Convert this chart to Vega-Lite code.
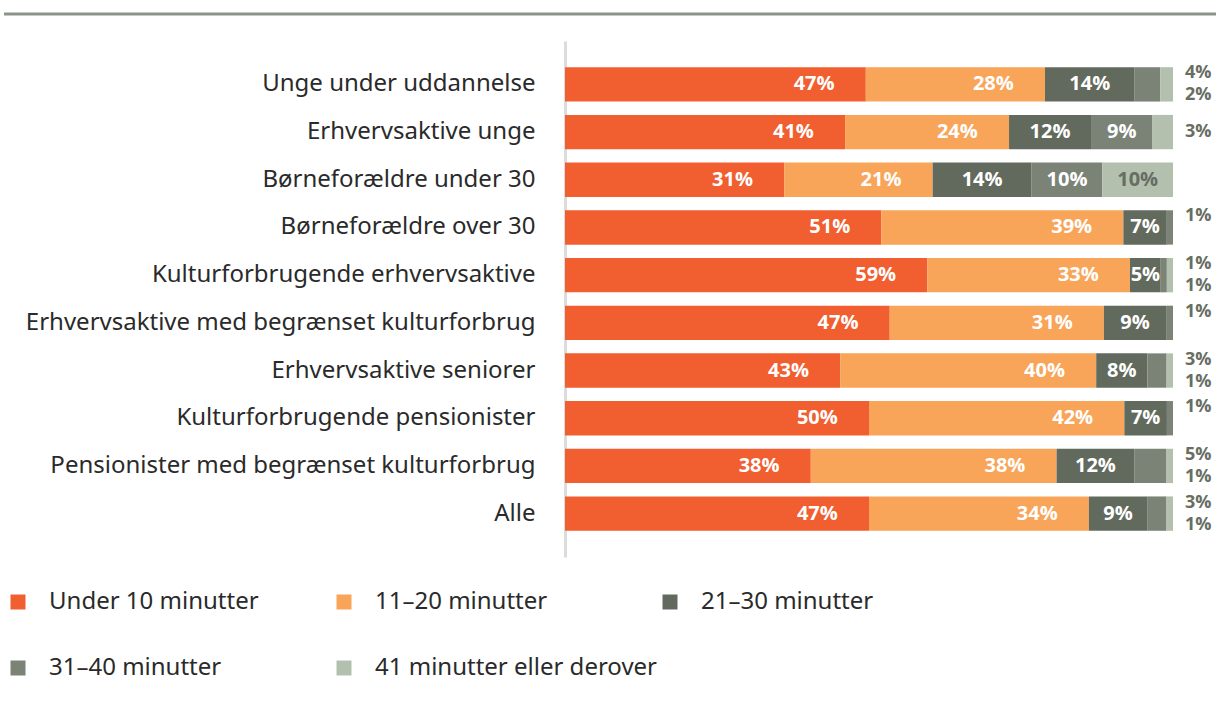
{
  "$schema": "https://vega.github.io/schema/vega-lite/v6.json",
  "width": 608,
  "height": 516,
  "autosize": {"type": "none"},
  "padding": {"left": 565, "top": 41, "right": 43, "bottom": 157},
  "background": "white",
  "config": {"view": {"stroke": null}, "font": "Noto Sans"},
  "layer": [
    {
      "data": {
        "values": [
          {"g": "Unge under uddannelse", "c": "Under 10 minutter", "v": 47},
          {"g": "Unge under uddannelse", "c": "11–20 minutter", "v": 28},
          {"g": "Unge under uddannelse", "c": "21–30 minutter", "v": 14},
          {"g": "Unge under uddannelse", "c": "31–40 minutter", "v": 4},
          {"g": "Unge under uddannelse", "c": "41 minutter eller derover", "v": 2},
          {"g": "Erhvervsaktive unge", "c": "Under 10 minutter", "v": 41},
          {"g": "Erhvervsaktive unge", "c": "11–20 minutter", "v": 24},
          {"g": "Erhvervsaktive unge", "c": "21–30 minutter", "v": 12},
          {"g": "Erhvervsaktive unge", "c": "31–40 minutter", "v": 9},
          {"g": "Erhvervsaktive unge", "c": "41 minutter eller derover", "v": 3},
          {"g": "Børneforældre under 30", "c": "Under 10 minutter", "v": 31},
          {"g": "Børneforældre under 30", "c": "11–20 minutter", "v": 21},
          {"g": "Børneforældre under 30", "c": "21–30 minutter", "v": 14},
          {"g": "Børneforældre under 30", "c": "31–40 minutter", "v": 10},
          {"g": "Børneforældre under 30", "c": "41 minutter eller derover", "v": 10},
          {"g": "Børneforældre over 30", "c": "Under 10 minutter", "v": 51},
          {"g": "Børneforældre over 30", "c": "11–20 minutter", "v": 39},
          {"g": "Børneforældre over 30", "c": "21–30 minutter", "v": 7},
          {"g": "Børneforældre over 30", "c": "31–40 minutter", "v": 1},
          {"g": "Børneforældre over 30", "c": "41 minutter eller derover", "v": 0},
          {"g": "Kulturforbrugende erhvervsaktive", "c": "Under 10 minutter", "v": 59},
          {"g": "Kulturforbrugende erhvervsaktive", "c": "11–20 minutter", "v": 33},
          {"g": "Kulturforbrugende erhvervsaktive", "c": "21–30 minutter", "v": 5},
          {"g": "Kulturforbrugende erhvervsaktive", "c": "31–40 minutter", "v": 1},
          {"g": "Kulturforbrugende erhvervsaktive", "c": "41 minutter eller derover", "v": 1},
          {"g": "Erhvervsaktive med begrænset kulturforbrug", "c": "Under 10 minutter", "v": 47},
          {"g": "Erhvervsaktive med begrænset kulturforbrug", "c": "11–20 minutter", "v": 31},
          {"g": "Erhvervsaktive med begrænset kulturforbrug", "c": "21–30 minutter", "v": 9},
          {"g": "Erhvervsaktive med begrænset kulturforbrug", "c": "31–40 minutter", "v": 1},
          {"g": "Erhvervsaktive med begrænset kulturforbrug", "c": "41 minutter eller derover", "v": 0},
          {"g": "Erhvervsaktive seniorer", "c": "Under 10 minutter", "v": 43},
          {"g": "Erhvervsaktive seniorer", "c": "11–20 minutter", "v": 40},
          {"g": "Erhvervsaktive seniorer", "c": "21–30 minutter", "v": 8},
          {"g": "Erhvervsaktive seniorer", "c": "31–40 minutter", "v": 3},
          {"g": "Erhvervsaktive seniorer", "c": "41 minutter eller derover", "v": 1},
          {"g": "Kulturforbrugende pensionister", "c": "Under 10 minutter", "v": 50},
          {"g": "Kulturforbrugende pensionister", "c": "11–20 minutter", "v": 42},
          {"g": "Kulturforbrugende pensionister", "c": "21–30 minutter", "v": 7},
          {"g": "Kulturforbrugende pensionister", "c": "31–40 minutter", "v": 1},
          {"g": "Kulturforbrugende pensionister", "c": "41 minutter eller derover", "v": 0},
          {"g": "Pensionister med begrænset kulturforbrug", "c": "Under 10 minutter", "v": 38},
          {"g": "Pensionister med begrænset kulturforbrug", "c": "11–20 minutter", "v": 38},
          {"g": "Pensionister med begrænset kulturforbrug", "c": "21–30 minutter", "v": 12},
          {"g": "Pensionister med begrænset kulturforbrug", "c": "31–40 minutter", "v": 5},
          {"g": "Pensionister med begrænset kulturforbrug", "c": "41 minutter eller derover", "v": 1},
          {"g": "Alle", "c": "Under 10 minutter", "v": 47},
          {"g": "Alle", "c": "11–20 minutter", "v": 34},
          {"g": "Alle", "c": "21–30 minutter", "v": 9},
          {"g": "Alle", "c": "31–40 minutter", "v": 3},
          {"g": "Alle", "c": "41 minutter eller derover", "v": 1}
        ]
      },
      "transform": [
        {"calculate": "indexof(['Under 10 minutter','11–20 minutter','21–30 minutter','31–40 minutter','41 minutter eller derover'], datum.c) + 1", "as": "o"},
        {"stack": "v", "groupby": ["g"], "sort": [{"field": "o", "order": "ascending"}], "offset": "normalize", "as": ["s0", "s1"]},
        {"calculate": "max((datum.s0 + datum.s1) / 2, datum.s1 - 0.085)", "as": "lx"},
        {"calculate": "datum.v + '%'", "as": "lab"},
        {"calculate": "datum.o == 4 && datum.v < 9 && datum.v > 0 ? 1 : 0", "as": "out4"},
        {"joinaggregate": [{"op": "sum", "field": "out4", "as": "n4"}], "groupby": ["g"]}
      ],
      "encoding": {
        "y": {
          "field": "g",
          "type": "nominal",
          "title": null,
          "sort": ["Unge under uddannelse", "Erhvervsaktive unge", "Børneforældre under 30", "Børneforældre over 30", "Kulturforbrugende erhvervsaktive", "Erhvervsaktive med begrænset kulturforbrug", "Erhvervsaktive seniorer", "Kulturforbrugende pensionister", "Pensionister med begrænset kulturforbrug", "Alle"],
          "scale": {"paddingInner": 0.28, "paddingOuter": 0.55},
          "axis": {
            "domainColor": "#dcdcdc",
            "domainWidth": 3,
            "ticks": false,
            "labelPadding": 30,
            "labelFontSize": 24,
            "labelFont": "Noto Sans",
            "labelColor": "#2a2a2a",
            "labelLimit": 600
          }
        }
      },
      "layer": [
        {
          "mark": {"type": "bar"},
          "encoding": {
            "x": {"field": "s0", "type": "quantitative", "scale": {"domain": [0, 1], "nice": false, "zero": false}, "axis": null},
            "x2": {"field": "s1"},
            "color": {
              "field": "c",
              "type": "nominal",
              "scale": {
                "domain": ["Under 10 minutter", "11–20 minutter", "21–30 minutter", "31–40 minutter", "41 minutter eller derover"],
                "range": ["#f15e30", "#f8a55a", "#626a5e", "#7b8377", "#b3c0ad"]
              },
              "legend": {
                "title": null,
                "orient": "none",
                "legendX": -559,
                "legendY": 549,
                "direction": "horizontal",
                "columns": 3,
                "symbolType": "square",
                "symbolSize": 225,
                "symbolStrokeWidth": 0,
                "symbolOpacity": 1,
                "labelFontSize": 24,
                "labelFont": "Noto Sans",
                "labelColor": "#2a2a2a",
                "labelOffset": 19,
                "labelLimit": 400,
                "rowPadding": 42,
                "columnPadding": 0,
                "gridAlign": "all"
              }
            }
          }
        },
        {
          "transform": [{"filter": "datum.o <= 3 || datum.v >= 9"}],
          "mark": {"type": "text", "font": "Open Sans", "fontWeight": "bold", "fontSize": 20, "align": "center", "baseline": "middle"},
          "encoding": {
            "x": {"field": "lx", "type": "quantitative"},
            "text": {"field": "lab"},
            "color": {"condition": {"test": "datum.o == 5", "value": "#666d62"}, "value": "white"}
          }
        },
        {
          "transform": [{"filter": "datum.out4 == 1"}],
          "mark": {"type": "text", "font": "Open Sans", "fontWeight": "bold", "fontSize": 18, "align": "left", "baseline": "middle", "dx": 12, "dy": -11, "color": "#686e64"},
          "encoding": {"x": {"datum": 1, "type": "quantitative"}, "text": {"field": "lab"}}
        },
        {
          "transform": [{"filter": "datum.o == 5 && datum.v > 0 && datum.v < 9 && datum.n4 == 1"}],
          "mark": {"type": "text", "font": "Open Sans", "fontWeight": "bold", "fontSize": 18, "align": "left", "baseline": "middle", "dx": 12, "dy": 11, "color": "#686e64"},
          "encoding": {"x": {"datum": 1, "type": "quantitative"}, "text": {"field": "lab"}}
        },
        {
          "transform": [{"filter": "datum.o == 5 && datum.v > 0 && datum.v < 9 && datum.n4 == 0"}],
          "mark": {"type": "text", "font": "Open Sans", "fontWeight": "bold", "fontSize": 18, "align": "left", "baseline": "middle", "dx": 12, "dy": 0, "color": "#686e64"},
          "encoding": {"x": {"datum": 1, "type": "quantitative"}, "text": {"field": "lab"}}
        }
      ]
    },
    {
      "data": {"values": [{}]},
      "mark": {"type": "rule", "color": "#8b9487", "strokeWidth": 3},
      "encoding": {
        "x": {"datum": -0.9227, "type": "quantitative", "scale": {"domain": [0, 1], "nice": false, "zero": false}},
        "x2": {"datum": 1.0707},
        "y": {"datum": 1.0523, "type": "quantitative", "scale": {"domain": [0, 1], "nice": false}, "axis": null}
      }
    }
  ],
  "resolve": {"scale": {"y": "independent"}}
}
